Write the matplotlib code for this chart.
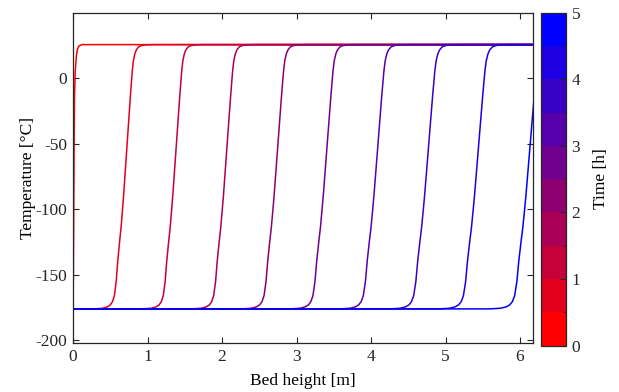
"""Thermal front propagation through the packed bed"""
import matplotlib
matplotlib.use("Agg")
import matplotlib.pyplot as plt
import matplotlib as mpl
import numpy as np
from matplotlib.colors import LinearSegmentedColormap, BoundaryNorm

# ── data ──
bed_length = 6.17                     # m
t_cold = -176.0                       # inlet temperature [°C]
t_warm = 25.5                         # initial bed temperature [°C]
times = [0.0, 0.5, 1.0, 1.5, 2.0, 2.5, 3.0, 3.5, 4.0, 4.5]   # h
front_pos = [0.0, 0.68, 1.34, 2.02, 2.70, 3.36, 4.04, 4.72, 5.39, 6.08]  # m, at T ≈ -89 °C
front_width = [0.0, 1.00, 1.03, 1.06, 1.09, 1.12, 1.15, 1.18, 1.20, 1.22]

# front profile, offset from the front position [m] vs temperature [°C]
prof_dx = [-0.40, -0.28, -0.22, -0.18, -0.15, -0.125, -0.10, -0.08, -0.055,
           -0.035, -0.015, 0.0, 0.03, 0.06, 0.09, 0.115, 0.13, 0.15, 0.17,
           0.20, 0.24, 0.30, 0.40]
prof_T = [-176.0, -175.5, -174.5, -173.0, -170.5, -166.0, -155.0, -140.0, -125.0,
          -114.0, -100.0, -89.0, -64.0, -39.0, -14.0, 5.0, 13.0, 18.5, 21.5,
          23.8, 24.8, 25.3, 25.5]

# profile at t = 0 (front sitting at the inlet)
first_x = [0.0, 0.005, 0.01, 0.015, 0.02, 0.03, 0.045, 0.06, 0.08, 0.12]
first_T = [-176.0, -150.0, -100.0, -50.0, -15.0, 5.0, 17.0, 22.0, 24.5, 25.5]

# ── style ──
mpl.rcParams.update({
    "font.family": "serif",
    "font.serif": ["Liberation Serif", "DejaVu Serif"],
    "font.size": 12.5,
    "axes.unicode_minus": False,
    "axes.linewidth": 0.9,
    "axes.edgecolor": "#262626",
    "xtick.direction": "in",
    "ytick.direction": "in",
    "xtick.color": "#262626",
    "ytick.color": "#262626",
    "xtick.major.size": 4,
    "ytick.major.size": 4,
    "xtick.major.pad": 4,
    "ytick.major.pad": 4,
    "xtick.top": True,
    "ytick.right": True,
})

cmap = LinearSegmentedColormap.from_list("rb", [(1, 0, 0), (0, 0, 1)], N=10)
bounds = np.arange(0, 5.01, 0.5)
norm = BoundaryNorm(bounds, cmap.N)

fig = plt.figure(figsize=(6.19, 3.92), dpi=100)
ax = fig.add_axes([73 / 619, 1 - 343 / 392, 459.7 / 619, 330 / 392])

for i, t in enumerate(times):
    color = cmap(i)
    if i == 0:
        x = list(first_x) + [bed_length]
        T = list(first_T) + [t_warm]
    else:
        x = [0.0] + [front_pos[i] + d * front_width[i] for d in prof_dx] + [bed_length]
        T = [t_cold] + list(prof_T) + [t_warm]
    ax.plot(x, T, color=color, lw=1.1, solid_capstyle="butt")

ax.set_xlim(0, bed_length)
ax.set_ylim(-202, 49.6)
ax.set_xticks(range(0, 7))
ax.set_yticks([-200, -150, -100, -50, 0])
ax.set_xlabel("Bed height [m]", labelpad=6)
ax.set_ylabel("Temperature [°C]", labelpad=0)

# colour bar for time
cax = fig.add_axes([540.7 / 619, 1 - 345.5 / 392, 25.3 / 619, 332.8 / 392])
sm = mpl.cm.ScalarMappable(norm=norm, cmap=cmap)
cb = fig.colorbar(sm, cax=cax, ticks=range(0, 6))
cb.outline.set_edgecolor("#262626")
cb.outline.set_linewidth(0.9)
cb.ax.tick_params(direction="in", length=4, color="#262626")
cb.set_label("Time [h]", labelpad=9)

fig.savefig("out.png", dpi=100)
print("OK")
